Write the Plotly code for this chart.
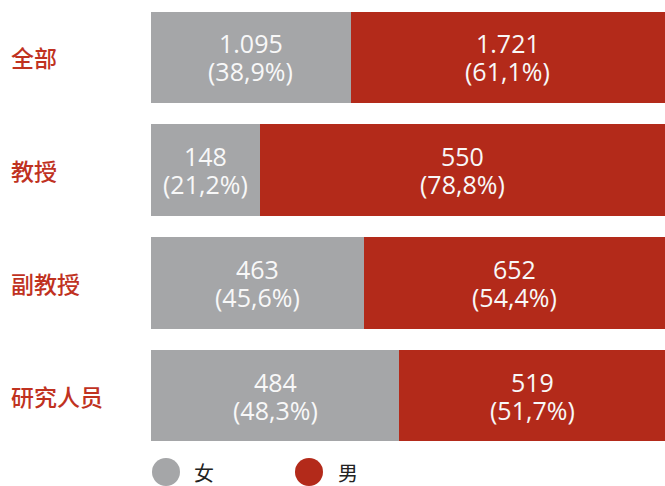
import plotly.graph_objects as go

categories = ["全部", "教授", "副教授", "研究人员"]
female = [1095, 148, 463, 484]
male = [1721, 550, 652, 519]
female_pct = [38.9, 21.2, 45.6, 48.3]
male_pct = [61.1, 78.8, 54.4, 51.7]
legend_labels = ["女", "男"]

GRAY = "#a5a6a8"
RED = "#b32a1a"
LABEL_RED = "#c0321f"

def fmt_num(v):
    return f"{v:,}".replace(",", ".")

def fmt_pct(p):
    return f"({p:.1f}%)".replace(".", ",")

fig = go.Figure()
fig.add_trace(go.Bar(y=categories, x=female, orientation="h", marker=dict(color=GRAY, line=dict(width=0)),
                     showlegend=False, hoverinfo="skip", name=legend_labels[0]))
fig.add_trace(go.Bar(y=categories, x=male, orientation="h", marker=dict(color=RED, line=dict(width=0)),
                     showlegend=False, hoverinfo="skip", name=legend_labels[1]))

W, L, R, T, B = 665, 151, 0, 1, 34
pw = W - L - R
ph = 486 - T - B

txtfont = dict(family="Open Sans", size=25, color="#f8f8f8")
annotations = []
for c, fv, fp, mv, mp in zip(categories, female, female_pct, male, male_pct):
    total = fv + mv
    fmid = fv / total * 100 / 2
    mmid = fv / total * 100 + mv / total * 100 / 2
    for xm, v, p in [(fmid, fv, fp), (mmid, mv, mp)]:
        annotations.append(dict(x=xm, y=c, xref="x", yref="y", text=fmt_num(v), showarrow=False,
                                xanchor="center", yanchor="middle", yshift=14, font=txtfont))
        annotations.append(dict(x=xm, y=c, xref="x", yref="y", text=fmt_pct(p), showarrow=False,
                                xanchor="center", yanchor="middle", yshift=-14, font=txtfont))
    annotations.append(dict(x=(9 - L) / pw, y=c, xref="paper", yref="y", text=c, showarrow=False,
                            xanchor="left", yanchor="middle",
                            font=dict(family="Noto Sans CJK SC", size=23, color=LABEL_RED, weight=500)))

shapes = []
leg_y = -(472 - (T + ph)) / ph
for cx, tx, col, lab in [(166, 192, GRAY, legend_labels[0]), (309, 336, RED, legend_labels[1])]:
    xa = (cx - L) / pw
    shapes.append(dict(type="circle", xref="paper", yref="paper", xsizemode="pixel", ysizemode="pixel",
                       xanchor=xa, yanchor=leg_y, x0=-14, x1=14, y0=-14, y1=14,
                       fillcolor=col, line=dict(width=0)))
    annotations.append(dict(x=(tx - L) / pw, y=leg_y, xref="paper", yref="paper", text=lab, showarrow=False,
                            xanchor="left", yanchor="middle",
                            font=dict(family="Noto Sans CJK SC", size=20, color="#222222")))

fig.update_layout(
    width=665, height=486,
    margin=dict(l=L, r=R, t=T, b=B),
    barmode="stack", barnorm="percent", bargap=0.19,
    plot_bgcolor="white", paper_bgcolor="white",
    xaxis=dict(range=[0, 100], visible=False, fixedrange=True),
    yaxis=dict(autorange="reversed", showticklabels=False, showgrid=False, zeroline=False, showline=False,
               ticks=""),
    annotations=annotations, shapes=shapes,
)

fig.write_html("out.html", config={"displayModeBar": False},
               post_script="document.body.style.margin='0';document.body.style.overflow='hidden';")
